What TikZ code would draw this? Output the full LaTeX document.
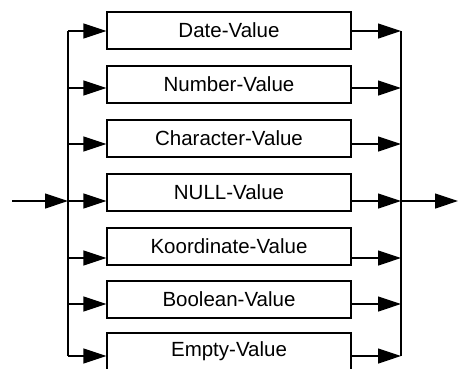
\documentclass[tikz,border=0pt]{standalone}
\usepackage{fontspec}
\setmainfont{Liberation Sans}
\usetikzlibrary{arrows.meta}
\begin{document}
\begin{tikzpicture}[x=1pt,y=-1pt,
  valbox/.style={draw, line width=1.2pt, minimum width=244pt, minimum height=37pt, inner sep=0pt,
     font=\fontsize{20.5}{24}\selectfont},
  bus/.style={line width=1.2pt},
  arr/.style={line width=1.2pt, -{Triangle[length=23pt,width=15pt]}}]
\useasboundingbox (0,0) rectangle (458,368);
\node[valbox] (b1) at (229,30.5) {Date-Value};
\node[valbox] (b2) at (229,84.5) {Number-Value};
\node[valbox] (b3) at (229,138.5) {Character-Value};
\node[valbox] (b4) at (229,192.5) {NULL-Value};
\node[valbox] (b5) at (229,246.5) {Koordinate-Value};
\node[valbox] (b6) at (229,299.5) {Boolean-Value};
\node[valbox] (b7) at (229,351.5) {Empty-Value};
% bus coordinates
\foreach \i/\y in {1/31,2/88,3/144,4/201,5/258,6/304,7/356}{
  \coordinate (l\i) at (68,\y);
  \coordinate (r\i) at (401,\y);
}
\coordinate (in) at (12,201);
\coordinate (out) at (458,201);
\draw[bus] (l1) -- (l7);
\draw[bus] (r1) -- (r7);
\foreach \i in {1,...,7}{
  \draw[arr] (l\i) -- (l\i -| b\i.west);
  \draw[arr] (r\i -| b\i.east) -- (r\i);
}
\draw[arr] (in) -- (l4);
\draw[arr] (r4) -- (out);
\end{tikzpicture}
\end{document}
